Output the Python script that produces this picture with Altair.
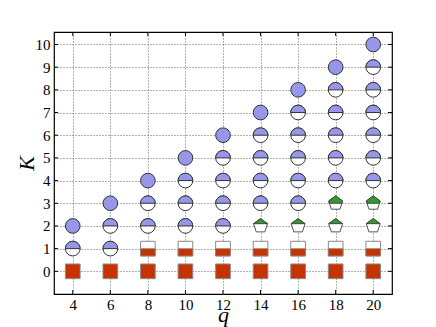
import altair as alt
import pandas as pd

# ---- data ----
q_ticks = [4, 6, 8, 10, 12, 14, 16, 18, 20]
K_ticks = [0, 1, 2, 3, 4, 5, 6, 7, 8, 9, 10]

sq_full_q = [4, 6, 8, 10, 12, 14, 16, 18, 20]
sq_full_K = [0, 0, 0, 0, 0, 0, 0, 0, 0]

sq_half_q = [8, 10, 12, 14, 16, 18, 20]
sq_half_K = [1, 1, 1, 1, 1, 1, 1]

pent_low_q = [14, 16, 18, 20]
pent_low_K = [2, 2, 2, 2]

pent_high_q = [18, 20]
pent_high_K = [3, 3]

circ_half_q = [4, 6, 6, 8, 8, 10, 10, 10, 12, 12, 12, 12, 14, 14, 14, 14,
               16, 16, 16, 16, 16, 18, 18, 18, 18, 18, 20, 20, 20, 20, 20, 20]
circ_half_K = [1, 1, 2, 2, 3, 2, 3, 4, 2, 3, 4, 5, 3, 4, 5, 6,
               3, 4, 5, 6, 7, 4, 5, 6, 7, 8, 4, 5, 6, 7, 8, 9]

circ_full_q = [4, 6, 8, 10, 12, 14, 16, 18, 20]
circ_full_K = [2, 3, 4, 5, 6, 7, 8, 9, 10]

# ---- styles ----
BLUE = "#9797ea"
RED = "#c43300"
GREEN = "#2f9a2f"
EDGE = "#333333"
SQ_EDGE = "#8a8a8a"
SIZE = 215

TOP_HALF_CIRCLE = "M-1,0A1,1,0,0,1,1,0Z"
BOTTOM_HALF_SQUARE = "M-1,0L1,0L1,1L-1,1Z"
PENT = "M0,-1L0.951,-0.309L0.588,0.809L-0.588,0.809L-0.951,-0.309Z"
PENT_TOP_TRI = "M0,-1L0.951,-0.309L-0.951,-0.309Z"
PENT_TOP_HALF = "M0,-1L0.951,-0.309L0.851,0L-0.851,0L-0.951,-0.309Z"

W, H = 338, 262

xscale = alt.Scale(domain=[3, 21], nice=False, zero=False)
yscale = alt.Scale(domain=[-1, 10.55], nice=False, zero=False)

FONT = "Liberation Serif"
GRID = "#666666"

xaxis = alt.Axis(values=q_ticks, grid=True, gridDash=[1, 2], gridColor=GRID,
                 gridOpacity=1, gridWidth=1, ticks=False, domain=False,
                 labelFont=FONT, labelFontSize=15, labelColor="#000000",
                 labelPadding=3, title="q", titleFont=FONT, titleFontSize=22,
                 titleFontStyle="italic", titleFontWeight="normal",
                 titleColor="#000000", titleBaseline="alphabetic", titleY=27)
yaxis = alt.Axis(values=K_ticks, grid=True, gridDash=[1, 2], gridColor=GRID,
                 gridOpacity=1, gridWidth=1, ticks=False, domain=False,
                 labelFont=FONT, labelFontSize=15, labelColor="#000000",
                 labelPadding=4, title="K", titleFont=FONT, titleFontSize=22,
                 titleFontStyle="italic", titleFontWeight="normal",
                 titleColor="#000000", titleBaseline="alphabetic", titleX=-21)

X = alt.X("q:Q", scale=xscale, axis=xaxis)
Y = alt.Y("K:Q", scale=yscale, axis=yaxis)


def df(qs, ks):
    return pd.DataFrame({"q": qs, "K": ks})


def pts(data, shape, fill, stroke, sw=1.0):
    return alt.Chart(data).mark_point(
        shape=shape, filled=True, fill=fill, stroke=stroke,
        strokeWidth=sw, size=SIZE, opacity=1
    ).encode(x=X, y=Y)


layers = []
# base (white) shapes
layers.append(pts(df(circ_half_q, circ_half_K), "circle", "#ffffff", EDGE))
layers.append(pts(df(sq_half_q, sq_half_K), "square", "#ffffff", SQ_EDGE))
layers.append(pts(df(pent_low_q + pent_high_q, pent_low_K + pent_high_K), PENT, "#ffffff", "#555555"))
# filled parts
layers.append(pts(df(circ_half_q, circ_half_K), TOP_HALF_CIRCLE, BLUE, EDGE))
layers.append(pts(df(circ_full_q, circ_full_K), "circle", BLUE, EDGE))
layers.append(pts(df(sq_full_q, sq_full_K), "square", RED, SQ_EDGE))
layers.append(pts(df(sq_half_q, sq_half_K), BOTTOM_HALF_SQUARE, RED, SQ_EDGE, sw=0.8))
layers.append(pts(df(pent_low_q, pent_low_K), PENT_TOP_TRI, GREEN, "#444444"))
layers.append(pts(df(pent_high_q, pent_high_K), PENT_TOP_HALF, GREEN, "#444444"))

# inside tick marks on all four sides
xt = pd.DataFrame({"q": q_ticks})
yt = pd.DataFrame({"K": K_ticks})
tick_len = 4
layers.append(alt.Chart(xt).mark_rule(color="#000000", strokeWidth=1).encode(
    x=X, y=alt.value(H), y2=alt.value(H - tick_len)))
layers.append(alt.Chart(xt).mark_rule(color="#000000", strokeWidth=1).encode(
    x=X, y=alt.value(0), y2=alt.value(tick_len)))
layers.append(alt.Chart(yt).mark_rule(color="#000000", strokeWidth=1).encode(
    y=Y, x=alt.value(0), x2=alt.value(tick_len)))
layers.append(alt.Chart(yt).mark_rule(color="#000000", strokeWidth=1).encode(
    y=Y, x=alt.value(W), x2=alt.value(W - tick_len)))

chart = alt.layer(*layers).properties(
    width=W, height=H,
    background="#ffffff",
    autosize=alt.AutoSizeParams(type="none"),
    padding={"left": 46, "top": 24, "right": 36, "bottom": 33},
).configure_view(stroke="#000000", strokeWidth=1.2)

chart.save("out.html", embed_options={"renderer": "svg", "actions": False})
